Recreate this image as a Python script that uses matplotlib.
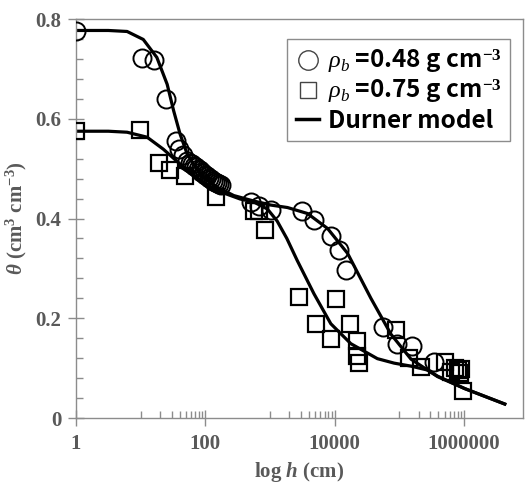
import matplotlib
matplotlib.use("Agg")
import matplotlib.pyplot as plt
import numpy as np
from matplotlib.lines import Line2D
from matplotlib.ticker import FixedLocator, NullFormatter

plt.rcParams["mathtext.fontset"] = "custom"
plt.rcParams["mathtext.rm"] = "Liberation Serif:bold"
plt.rcParams["mathtext.it"] = "Liberation Serif:italic:bold"
plt.rcParams["mathtext.bf"] = "Liberation Serif:bold"
plt.rcParams["mathtext.sf"] = "Liberation Serif:italic"

# measured points, x given as log10(h)
loose_logh = [0.0, 1.02, 1.20, 1.39, 1.55, 1.60, 1.66, 1.72,
              1.76, 1.79, 1.82, 1.85, 1.88, 1.91, 1.94, 1.97, 2.00,
              2.03, 2.06, 2.09, 2.12, 2.15, 2.18, 2.21, 2.24,
              2.70, 2.83, 3.01, 3.50, 3.68, 3.95, 4.07, 4.18,
              4.75, 4.97, 5.19, 5.54]
loose_theta = [0.775, 0.721, 0.718, 0.639, 0.556, 0.540, 0.528, 0.516,
               0.512, 0.509, 0.506, 0.503, 0.500, 0.497, 0.494, 0.491, 0.488,
               0.485, 0.482, 0.479, 0.476, 0.474, 0.472, 0.470, 0.468,
               0.433, 0.426, 0.417, 0.416, 0.397, 0.365, 0.336, 0.297,
               0.183, 0.149, 0.145, 0.112]

dense_logh = [0.0, 0.99, 1.28, 1.46, 1.69, 2.17, 2.75, 2.83, 2.93,
              3.45, 4.02, 3.71, 4.23, 3.95, 4.35, 4.35, 4.38,
              4.95, 5.15, 5.33, 5.70, 5.80, 5.86, 5.90, 5.93, 5.95, 5.98]
dense_theta = [0.576, 0.577, 0.511, 0.497, 0.486, 0.443, 0.416, 0.416, 0.376,
               0.243, 0.239, 0.189, 0.189, 0.159, 0.155, 0.124, 0.111,
               0.177, 0.121, 0.103, 0.113, 0.093, 0.100, 0.096, 0.091, 0.098, 0.055]

# Durner model curves
fit_loose_logh = [0.0, 0.5, 0.79, 1.04, 1.25, 1.41, 1.51, 1.61, 1.72, 1.92,
                  2.18, 2.44, 2.75, 3.01, 3.27, 3.58, 3.89, 4.20, 4.56,
                  4.87, 5.18, 5.59, 6.01, 6.35, 6.63]
fit_loose_theta = [0.777, 0.777, 0.775, 0.759, 0.723, 0.669, 0.616, 0.569, 0.529, 0.489,
                   0.463, 0.446, 0.435, 0.427, 0.422, 0.410, 0.380, 0.330, 0.240,
                   0.168, 0.118, 0.083, 0.059, 0.042, 0.028]

fit_dense_logh = [0.0, 0.5, 0.79, 1.10, 1.35, 1.61, 1.92, 2.18, 2.54, 2.75,
                  2.96, 3.11, 3.26, 3.42, 3.68, 3.94, 4.25, 4.66, 4.92,
                  5.18, 5.44, 5.59, 6.01, 6.35, 6.63]
fit_dense_theta = [0.575, 0.575, 0.573, 0.563, 0.539, 0.509, 0.476, 0.456, 0.439, 0.433,
                   0.419, 0.395, 0.360, 0.316, 0.249, 0.189, 0.149, 0.119, 0.110,
                   0.104, 0.096, 0.084, 0.059, 0.042, 0.028]

GREY = "#595959"
EDGE = "#8c8c8c"

fig = plt.figure(figsize=(5.27, 4.86), dpi=100)
ax = fig.add_axes([0.1442, 0.1399, 0.848, 0.821])

ax.plot(10 ** np.array(fit_loose_logh), fit_loose_theta, "-", color="black", lw=2.3, zorder=2)
ax.plot(10 ** np.array(fit_dense_logh), fit_dense_theta, "-", color="black", lw=2.3, zorder=2)
ax.plot(10 ** np.array(loose_logh), loose_theta, "o", ms=13, mfc="none", mec="black", mew=1.4, zorder=3)
ax.plot(10 ** np.array(dense_logh), dense_theta, "s", ms=12, mfc="none", mec="black", mew=1.6, zorder=3)

ax.set_xscale("log")
ax.set_xlim(1, 10 ** 6.91)
ax.set_ylim(0, 0.8)

ax.xaxis.set_major_locator(FixedLocator([1, 100, 10000, 1000000]))
ax.set_xticklabels(["1", "100", "10000", "1000000"])
minor_x = [k * 10 ** e for e in (1, 3, 5) for k in range(1, 10)]
ax.xaxis.set_minor_locator(FixedLocator(minor_x))
ax.xaxis.set_minor_formatter(NullFormatter())

ax.set_yticks([0, 0.2, 0.4, 0.6, 0.8])
ax.set_yticklabels(["0", "0.2", "0.4", "0.6", "0.8"])
ax.yaxis.set_minor_locator(FixedLocator(np.arange(0.04, 0.8, 0.04)))

ax.tick_params(which="major", direction="inout", length=11, width=1, color=EDGE,
               labelcolor=GREY, labelsize=15)
ax.tick_params(which="minor", direction="in", length=5, width=1, color=EDGE)
ax.tick_params(axis="x", which="major", pad=6)
ax.tick_params(axis="y", which="major", pad=5)
for lab in ax.get_xticklabels() + ax.get_yticklabels():
    lab.set_fontfamily("Liberation Serif")
    lab.set_fontweight("bold")

for side in ["left", "bottom", "top", "right"]:
    ax.spines[side].set_color(EDGE)
    ax.spines[side].set_linewidth(1.0)

ax.set_xlabel(r"log $h$ (cm)", fontsize=15, color=GREY, family="Liberation Serif",
              fontweight="bold", labelpad=4)
ax.set_ylabel(r"$\theta$ (cm$^3$ cm$^{-3}$)", fontsize=15, color=GREY,
              family="Liberation Serif", fontweight="bold")
ax.yaxis.set_label_coords(-0.105, 0.5)

handles = [
    Line2D([], [], ls="none", marker="o", ms=14, mfc="none", mec="#444444", mew=1.0),
    Line2D([], [], ls="none", marker="s", ms=12, mfc="none", mec="#444444", mew=1.0),
    Line2D([], [], color="black", lw=2.5),
]
labels = [r"$\mathsf{\rho_b}$ =0.48 g cm$^{-3}$", r"$\mathsf{\rho_b}$ =0.75 g cm$^{-3}$",
          "Durner model"]
leg = ax.legend(handles, labels, loc="upper right", bbox_to_anchor=(0.971, 0.950),
                borderaxespad=0, fancybox=False, framealpha=1, edgecolor=EDGE,
                handlelength=0.95, handletextpad=0.35, labelspacing=0.1, borderpad=0.35,
                prop={"family": "Noto Sans CJK JP", "size": 17.5, "weight": "bold"})
leg.get_frame().set_linewidth(1.0)

fig.savefig("out.png", dpi=100)
